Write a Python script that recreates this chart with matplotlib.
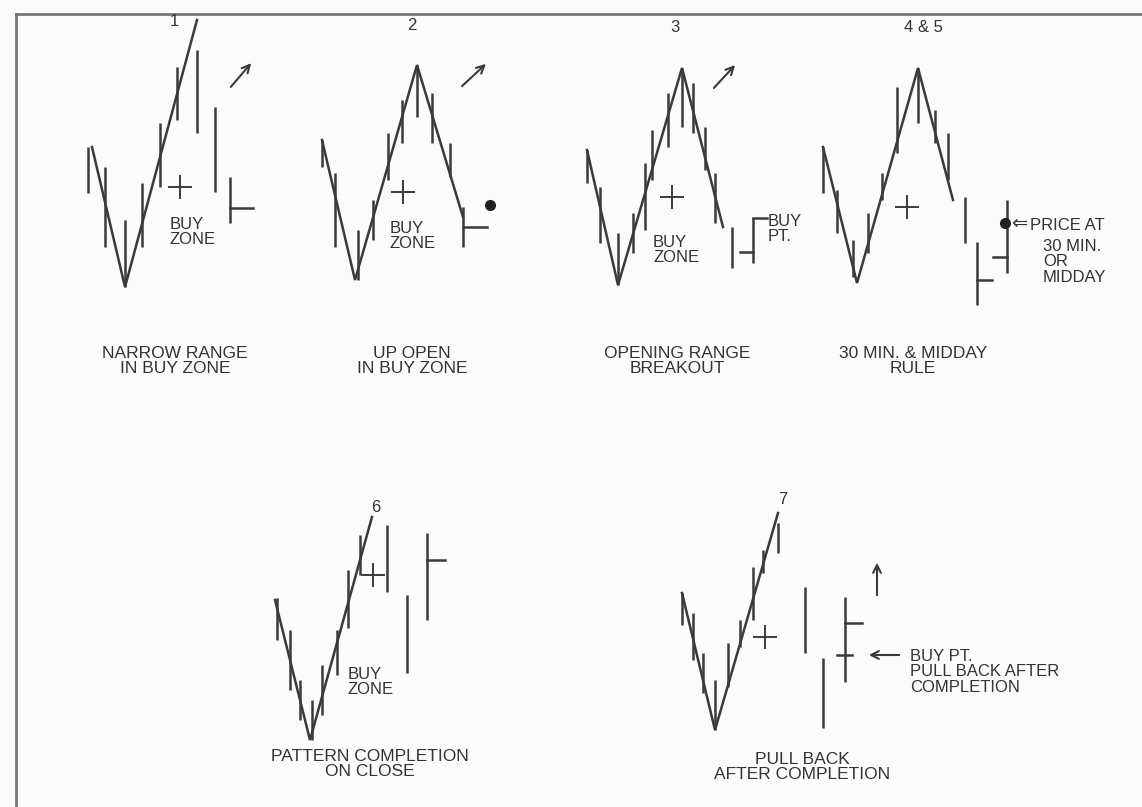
import matplotlib.pyplot as plt

plt.rcParams['font.family'] = ['Liberation Sans', 'DejaVu Sans']

INK = '#3a3a3a'
TXT = '#333333'

# --- panel 1: narrow range in buy zone
p1_path = [(92, 147), (125, 287), (197, 20)]
p1_bars = [(88, 147, 193), (105, 167, 247), (125, 220, 287), (142, 183, 247),
           (160, 123, 187), (177, 67, 120), (197, 50, 133), (215, 107, 192),
           (230, 177, 223)]
p1_ticks = [(230, 208, 253)]          # (x, y, x_end)

# --- panel 2: up open in buy zone
p2_path = [(322, 140), (355, 280), (417, 65), (463, 217)]
p2_bars = [(322, 140, 167), (335, 173, 247), (358, 230, 280), (373, 200, 240),
           (388, 133, 180), (402, 100, 143), (417, 65, 117), (432, 93, 143),
           (450, 143, 177), (463, 207, 247)]
p2_ticks = [(463, 227, 487)]

# --- panel 3: opening range breakout
p3_path = [(587, 150), (618, 285), (682, 68), (723, 227)]
p3_bars = [(587, 150, 183), (600, 187, 243), (618, 233, 285), (633, 213, 253),
           (645, 163, 230), (652, 130, 180), (668, 93, 147), (682, 68, 127),
           (693, 83, 133), (705, 127, 170), (715, 173, 223), (732, 227, 268),
           (753, 218, 263)]
p3_ticks = [(753, 252, 740), (753, 218, 767)]

# --- panel 4 & 5: 30 min & midday rule
p4_path = [(823, 147), (857, 283), (918, 68), (953, 200)]
p4_bars = [(823, 147, 193), (837, 190, 233), (853, 240, 277), (868, 213, 253),
           (882, 173, 200), (897, 87, 153), (918, 68, 123), (935, 110, 143),
           (948, 133, 180), (965, 197, 243), (977, 242, 305), (1007, 200, 273)]
p4_ticks = [(977, 280, 992), (1007, 257, 993)]

# --- panel 6: pattern completion on close
p6_path = [(275, 600), (310, 740), (372, 517)]
p6_bars = [(277, 598, 640), (290, 630, 690), (300, 680, 720), (312, 700, 740),
           (322, 665, 715), (337, 630, 675), (348, 570, 628), (360, 535, 575),
           (387, 525, 592), (407, 595, 673), (427, 533, 620)]
p6_ticks = [(427, 560, 445)]

# --- panel 7: pull back after completion
p7_path = [(682, 593), (715, 730), (778, 513)]
p7_bars = [(682, 593, 625), (693, 613, 660), (703, 653, 693), (715, 680, 730),
           (728, 643, 687), (740, 620, 647), (753, 567, 620), (763, 550, 573),
           (778, 523, 553), (805, 587, 653), (823, 658, 728), (845, 597, 682)]
p7_ticks = [(845, 623, 862), (837, 655, 852)]

paths = [p1_path, p2_path, p3_path, p4_path, p6_path, p7_path]
bars = [p1_bars, p2_bars, p3_bars, p4_bars, p6_bars, p7_bars]
ticks = [p1_ticks, p2_ticks, p3_ticks, p4_ticks, p6_ticks, p7_ticks]

plus_marks = [(180, 187), (403, 192), (672, 197), (907, 207), (373, 575), (765, 637)]
dots = [(490, 205), (1005, 223)]

titles = [('1', 174, 22), ('2', 412, 25), ('3', 675, 27), ('4 & 5', 923, 27),
          ('6', 376, 507), ('7', 783, 499)]
captions = [('NARROW RANGE\nIN BUY ZONE', 175, 361),
            ('UP OPEN\nIN BUY ZONE', 412, 361),
            ('OPENING RANGE\nBREAKOUT', 677, 361),
            ('30 MIN. & MIDDAY\nRULE', 913, 361),
            ('PATTERN COMPLETION\nON CLOSE', 370, 764),
            ('PULL BACK\nAFTER COMPLETION', 802, 767)]
buy_zone = [(170, 232), (390, 236), (653, 250), (348, 682)]

fig = plt.figure(figsize=(11.42, 8.07), dpi=100)
fig.patch.set_facecolor('#fbfbfb')
ax = fig.add_axes([0, 0, 1, 1])
ax.set_xlim(0, 1142)
ax.set_ylim(807, 0)
ax.axis('off')

# frame lines of the scan
ax.plot([16, 1142], [14, 14], color='#777777', lw=2)
ax.plot([16, 16], [14, 807], color='#777777', lw=2)

for path, bl, tl in zip(paths, bars, ticks):
    ax.plot([p[0] for p in path], [p[1] for p in path], color=INK, lw=1.8,
            solid_joinstyle='miter')
    ax.vlines([b[0] for b in bl], [b[1] for b in bl], [b[2] for b in bl],
              color=INK, lw=1.8)
    for x, y, x2 in tl:
        ax.plot([x, x2], [y, y], color=INK, lw=1.8)

for x, y in plus_marks:
    ax.plot(x, y, marker='+', ms=17, mew=1.4, color=INK)
for x, y in dots:
    ax.plot(x, y, marker='o', ms=7, color='#222222')

for t, x, y in titles:
    ax.text(x, y, t, ha='center', va='center', fontsize=12, color=TXT)
for t, x, y in captions:
    ax.text(x, y, t, ha='center', va='center', fontsize=12.5, color=TXT,
            linespacing=1.0)
for x, y in buy_zone:
    ax.text(x, y, 'BUY\nZONE', ha='left', va='center', fontsize=12, color=TXT,
            linespacing=1.0)

# diagonal breakout arrows
for (x0, y0), (x1, y1) in [((229, 89), (253, 61)), ((460, 88), (488, 62)),
                           ((712, 90), (737, 63))]:
    ax.annotate('', xy=(x1, y1), xytext=(x0, y0),
                arrowprops=dict(arrowstyle='->', color=INK, lw=1.5,
                                mutation_scale=14))

# panel 3 annotation
ax.text(768, 229, 'BUY\nPT.', ha='left', va='center', fontsize=12, color=TXT,
        linespacing=1.0)

# panel 4 annotation
ax.text(1011, 223, '\u21d0', ha='left', va='center', fontsize=14, color=TXT,
        family='DejaVu Sans')
ax.text(1030, 226, 'PRICE AT', ha='left', va='center', fontsize=12, color=TXT)
ax.text(1043, 262, '30 MIN.\nOR\nMIDDAY', ha='left', va='center', fontsize=12,
        color=TXT, linespacing=1.05)

# panel 7 annotations
ax.annotate('', xy=(877, 560), xytext=(877, 598),
            arrowprops=dict(arrowstyle='->', color=INK, lw=1.5, mutation_scale=14))
ax.annotate('', xy=(866, 655), xytext=(902, 655),
            arrowprops=dict(arrowstyle='->', color=INK, lw=1.5, mutation_scale=14))
ax.text(910, 672, 'BUY PT.\nPULL BACK AFTER\nCOMPLETION', ha='left', va='center',
        fontsize=12, color=TXT, linespacing=1.05)

fig.savefig('out.png', dpi=100, facecolor=fig.get_facecolor())
